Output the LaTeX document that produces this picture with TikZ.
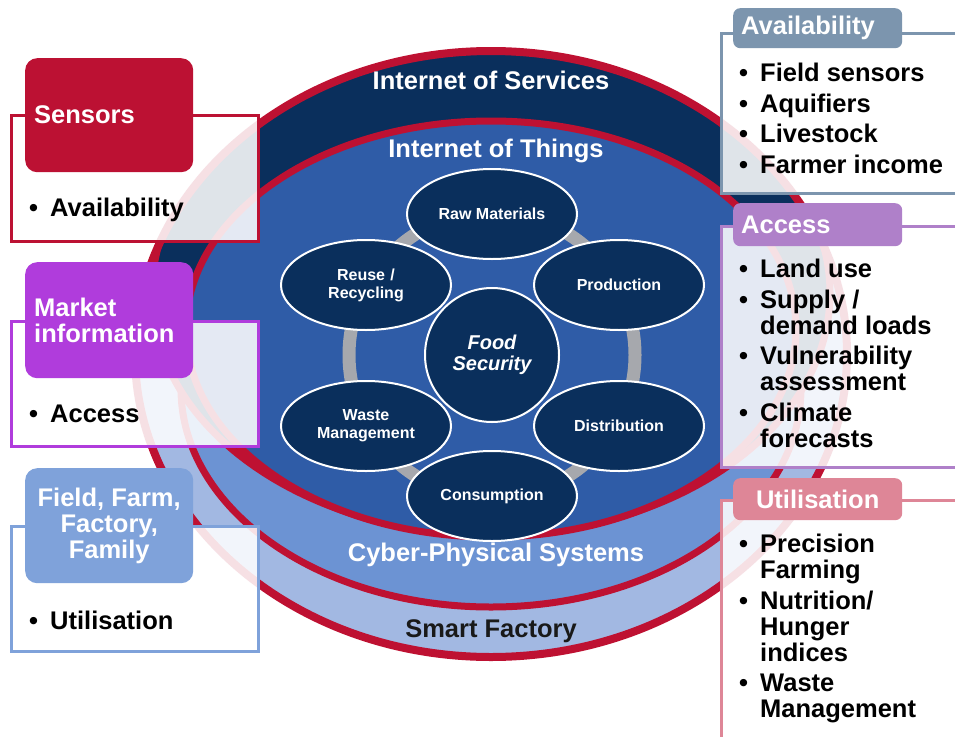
\documentclass[tikz,border=0pt]{standalone}
\usepackage{fontspec}
\setmainfont{Liberation Sans}
\usetikzlibrary{shapes.geometric,positioning}
\definecolor{ringred}{HTML}{BE1132}
\definecolor{navy}{HTML}{0A2F5C}
\definecolor{iotblue}{HTML}{2F5CA7}
\definecolor{cpsblue}{HTML}{6C93D3}
\definecolor{sfblue}{HTML}{A2B8E2}
\definecolor{ringgray}{HTML}{A6A8AD}
\definecolor{senscol}{HTML}{BC1133}
\definecolor{mktcol}{HTML}{B03CDC}
\definecolor{fieldcol}{HTML}{7FA2DA}
\definecolor{avcol}{HTML}{7C95AE}
\definecolor{accol}{HTML}{AF80C9}
\definecolor{utcol}{HTML}{DE8697}
\newcommand{\bul}{\makebox[21pt][l]{\textbullet}}
\newcommand{\ind}{\hspace*{21pt}}

\begin{document}
\begin{tikzpicture}[x=1pt,y=-1pt,
    ringlbl/.style={font=\fontsize{25.5}{26}\selectfont\bfseries, text=white},
    stage/.style={ellipse, draw=white, line width=2pt, fill=navy, minimum width=170pt,
      minimum height=90pt, inner sep=0pt, text=white, align=center,
      font=\fontsize{16}{18}\selectfont\bfseries},
    frame/.style={draw=#1, line width=2.5pt, fill=white, fill opacity=0.87,
      anchor=north west, inner sep=0pt},
    head/.style={fill=#1, rounded corners=12pt, anchor=north west, inner sep=0pt,
      text=white, font=\fontsize{25.5}{26}\selectfont\bfseries},
    body/.style={anchor=north west, inner sep=0pt, align=left,
      font=\fontsize{25.5}{26}\selectfont\bfseries}]
  \useasboundingbox (0,0) rectangle (955,736);
  \clip (0,0) rectangle (955,736);

  % nested rings
  \coordinate (ctr) at (491,354);
  \fill[sfblue] (ctr) ellipse [x radius=356pt, y radius=303pt];
  \draw[ringred, line width=7pt, fill=cpsblue] (491,389) ellipse [x radius=310pt, y radius=218pt];
  \begin{scope}
    \clip (ctr) ellipse [x radius=356pt, y radius=303pt];
    \draw[ringred, line width=7pt, fill=navy] (491,293) ellipse [x radius=339pt, y radius=242pt];
  \end{scope}
  \draw[ringred, line width=7pt, fill=iotblue] (491,329) ellipse [x radius=305pt, y radius=208pt];
  \draw[ringred, line width=8pt] (ctr) ellipse [x radius=356pt, y radius=303pt];

  \node[ringlbl] (ios) at (491,80) {Internet of Services};
  \node[ringlbl] (iot) at (496,151) {Internet of Things};
  \node[ringlbl] (cps) at (496,555) {Cyber-Physical Systems};
  \node[ringlbl, text=black!90] (sf) at (491,631) {Smart Factory};

  % food cycle
  \coordinate (cyc) at (492,355);
  \draw[ringgray, line width=13pt] (cyc) circle [radius=143pt];
  \node[stage] (raw) at (492,214) {Raw Materials};
  \node[stage] (prod) at (619,285) {Production};
  \node[stage] (dist) at (619,426) {Distribution};
  \node[stage] (cons) at (492,496) {Consumption};
  \node[stage] (waste) at (366,426) {Waste\\Management};
  \node[stage] (reuse) at (366,285) {Reuse\,\,/\\Recycling};
  \node[stage, circle, minimum size=134pt, font=\fontsize{20}{21}\selectfont\bfseries\itshape]
    (food) at (cyc) {Food\\Security};

  % left boxes
  \node[frame=senscol, minimum width=247pt, minimum height=126pt] (sensfr) at (10,114) {};
  \node[head=senscol, minimum width=168pt, minimum height=114pt, text width=150pt, align=left]
    (sens) at (25,58) {Sensors};
  \node[body, anchor=west] (sensav) at (29,210) {\bul Availability};

  \node[frame=mktcol, minimum width=247pt, minimum height=125pt] (mktfr) at (10,320) {};
  \node[head=mktcol, minimum width=168pt, minimum height=116pt, text width=150pt, align=left]
    (mkt) at (25,262) {Market\\information};
  \node[body, anchor=west] (mktac) at (29,414) {\bul Access};

  \node[frame=fieldcol, minimum width=247pt, minimum height=125pt] (fieldfr) at (10,525) {};
  \node[head=fieldcol, minimum width=168pt, minimum height=115pt, align=center]
    (field) at (25,468) {Field, Farm,\\Factory,\\Family};
  \node[body, anchor=west] (fieldut) at (29,620) {\bul Utilisation};

  % right boxes
  \node[frame=avcol, minimum width=260pt, minimum height=160pt] (avfr) at (720,32) {};
  \node[head=avcol, rounded corners=7pt, minimum width=169pt, minimum height=40pt,
    text width=153pt, align=left] (av) at (733,8) {Availability};
  \node[body] (avlist) at (739,63) {\bul Field sensors\\[4.5pt] \bul Aquifiers\\[4.5pt]
    \bul Livestock\\[4.5pt] \bul Farmer income};

  \node[frame=accol, minimum width=260pt, minimum height=241pt] (acfr) at (720,225) {};
  \node[head=accol, rounded corners=7pt, minimum width=169pt, minimum height=43pt,
    text width=153pt, align=left] (ac) at (733,203) {Access};
  \node[body] (aclist) at (739,259) {\bul Land use\\[4.5pt] \bul Supply /\\ \ind demand loads\\[4.5pt]
    \bul Vulnerability\\ \ind assessment\\[4.5pt] \bul Climate\\ \ind forecasts};

  \node[frame=utcol, minimum width=260pt, minimum height=260pt] (utfr) at (720,499) {};
  \node[head=utcol, rounded corners=7pt, minimum width=169pt, minimum height=42pt,
    align=center] (ut) at (733,478) {Utilisation};
  \node[body] (utlist) at (739,534) {\bul Precision\\ \ind Farming\\[4.5pt] \bul Nutrition/\\
    \ind Hunger\\ \ind indices\\[4.5pt] \bul Waste\\ \ind Management};
\end{tikzpicture}
\end{document}
